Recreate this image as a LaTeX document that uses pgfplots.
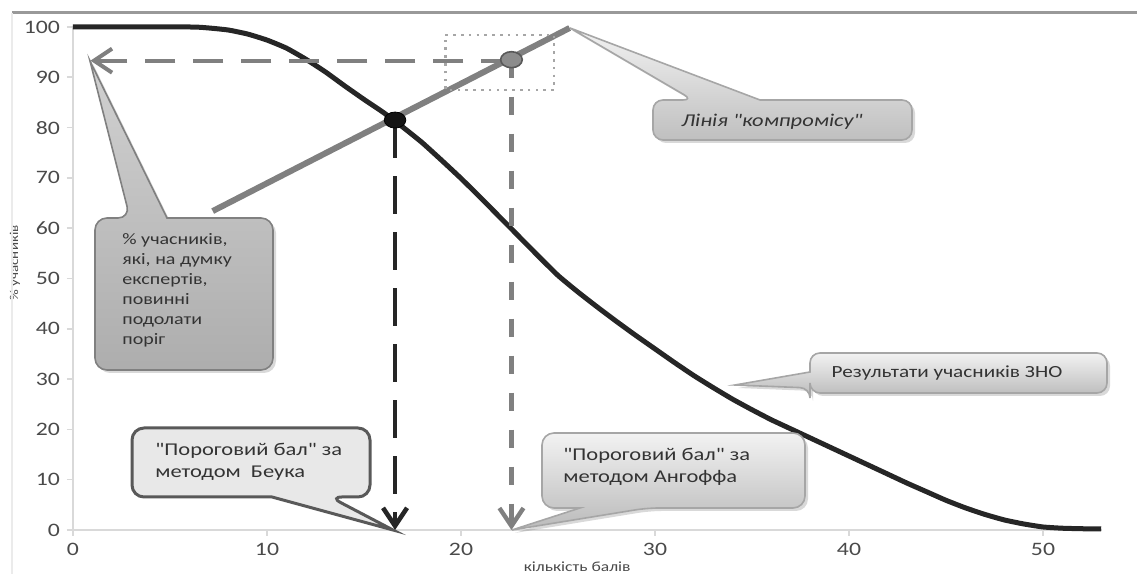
\documentclass[border=0pt]{standalone}
\usepackage{fontspec}
\setmainfont[FakeStretch=1.25]{Carlito}
\newfontfamily\bxfont[FakeStretch=1.25]{Carlito}
\newfontfamily\itfont[FakeStretch=1.25]{Carlito Italic}
\usepackage{pgfplots}
\pgfplotsset{compat=1.18}
\usetikzlibrary{arrows.meta,shadows}
\definecolor{axgray}{HTML}{D9D9D9}
\definecolor{txtgray}{HTML}{4A4A4A}
\definecolor{curvec}{HTML}{262626}
\definecolor{lgray}{HTML}{808080}
\definecolor{dgray}{HTML}{333333}
\begin{document}
\begin{tikzpicture}
\begin{axis}[
  scale only axis, width=514.5pt, height=251.5pt,
  xmin=0, xmax=53.04, ymin=0, ymax=100,
  axis lines*=left, axis line style={axgray, line width=1pt},
  xtick={0,10,...,50}, ytick={0,10,...,100},
  tick style={axgray, line width=0.8pt}, tick align=outside, major tick length=3pt,
  ticklabel style={font=\fontsize{9.5}{11}\selectfont, text=txtgray},
  /pgf/number format/assume math mode=true,
  xlabel={кількість балів}, ylabel={\% учасників},
  xlabel style={at={(axis description cs:0.49,-0.0736)}, anchor=center, font=\fontsize{7}{8}\selectfont, text=txtgray},
  ylabel style={at={(axis description cs:-0.0564,0.531)}, anchor=center, font=\fontsize{6}{7}\selectfont, text=txtgray},
  clip=false,
]
% results curve
\addplot[curvec, line width=2.5pt, smooth, tension=0.3, line join=round] coordinates {
(0,100)(6,100)(7,99.8)(8,99.4)(9,98.6)(10,97.4)(11,95.8)(12,93.6)(13,91.1)(14,88.3)(15,85.6)(16,83.0)(17,80.1)(18,77.0)(19,73.5)(20,69.9)(21,66.1)(22,62.2)(23,58.3)(24,54.4)(25,50.6)(26,47.4)(27,44.4)(28,41.5)(29,38.7)(30,36.0)(31,33.3)(32,30.7)(33,28.3)(34,26.0)(35,23.9)(36,21.9)(37,20.1)(38,18.3)(39,16.5)(40,14.7)(41,12.9)(42,11.1)(43,9.3)(44,7.6)(45,5.9)(46,4.4)(47,3.1)(48,2.0)(49,1.2)(50,0.6)(51,0.35)(52,0.25)(53,0.2)};
% compromise line
\addplot[lgray, line width=3pt] coordinates {(7.2,63.4) (25.6,99.8)};
% horizontal dashed arrow
\addplot[lgray, line width=2pt, dash pattern=on 15pt off 9pt, -{Straight Barb[length=9pt,width=12pt,line width=2pt]}] coordinates {(22.6,93.3) (0.9,93.3)};
% vertical arrows
\addplot[curvec, line width=2.3pt, dash pattern=on 19pt off 9pt, -{Straight Barb[length=9pt,width=12pt,line width=2.3pt]}] coordinates {(16.6,81.5) (16.6,0)};
\addplot[lgray, line width=2.2pt, dash pattern=on 9pt off 9.5pt, -{Straight Barb[length=9pt,width=12pt,line width=2.2pt]}] coordinates {(22.6,93.5) (22.6,0)};
% dotted rectangle
\addplot[black!35, line width=1.3pt, dash pattern=on 1.3pt off 2.6pt] coordinates {(19.2,98.4)(24.8,98.4)(24.8,87.5)(19.2,87.5)(19.2,98.4)};
% dots
\addplot[only marks, mark=*, mark size=4pt, mark options={xscale=1.35, fill=black!92, draw=black}] coordinates {(16.6,81.5)};
\addplot[only marks, mark=*, mark size=4pt, mark options={xscale=1.35, fill=black!45, draw=black!65, line width=0.8pt}] coordinates {(22.6,93.5)};
\end{axis}
\begin{scope}[shift={(-36.5pt,265pt)}, x=0.5pt, y=-0.5pt]
\path[use as bounding box] (0,0) rectangle (1137,574);
\draw[black!40, line width=1.5pt] (12,13) -- (1137,13);
\draw[black!8, line width=1pt] (12,13) -- (12,574);
% box 1
\filldraw[draw=lgray, line width=0.8pt, top color=black!18, bottom color=black!32, drop shadow={opacity=0.3, shadow xshift=1.5pt, shadow yshift=-1.5pt}, rounded corners=6pt]
  (95,218) -- (130,218) [sharp corners] -- (90,61) -- (167,218) [rounded corners=6pt] -- (273,218) -- (273,370) -- (95,370) -- cycle;
\node[anchor=north west, align=left, text=dgray, font=\bxfont\fontsize{8}{10}\selectfont, inner sep=0pt] at (122,233)
  {\% учасників,\\які, на думку\\експертів,\\повинні\\подолати\\поріг};
% box 2
\filldraw[draw=black!35, line width=0.8pt, top color=black!5, bottom color=black!25, drop shadow={opacity=0.3, shadow xshift=1.5pt, shadow yshift=-1.5pt}, rounded corners=5pt]
  (653,100) -- (693,100) [sharp corners] -- (570,28) -- (760,100) [rounded corners=5pt] -- (912,100) -- (912,140) -- (653,140) -- cycle;
\node[text=dgray, font=\itfont\fontsize{9}{10}\selectfont] at (772,122) {Лінія "компромісу"};
% box 3
\filldraw[draw=black!35, line width=0.8pt, top color=black!5, bottom color=black!25, drop shadow={opacity=0.3, shadow xshift=1.5pt, shadow yshift=-1.5pt}, rounded corners=5pt]
  (810,353) -- (1107,353) -- (1107,393) -- (810,393) -- (810,388) [sharp corners] -- (735,385) -- (810,372) [rounded corners=5pt] -- cycle;
\node[text=dgray, font=\bxfont\fontsize{8.5}{10}\selectfont] at (947,373) {Результати учасників ЗНО};
% box 4
\filldraw[draw=black!65, line width=1.5pt, fill=black!9, rounded corners=6pt]
  (132,428) -- (370,428) -- (370,497) -- (330,497) [sharp corners] -- (393,530) -- (272,497) [rounded corners=6pt] -- (132,497) -- cycle;
\node[anchor=north west, align=left, text=dgray, font=\bxfont\fontsize{9}{11}\selectfont, inner sep=0pt] at (155,443)
  {"Пороговий бал" за\\методом~~Беука};
% box 5
\filldraw[draw=black!35, line width=0.8pt, top color=black!5, bottom color=black!27, drop shadow={opacity=0.3, shadow xshift=1.5pt, shadow yshift=-1.5pt}, rounded corners=6pt]
  (542,433) -- (805,433) -- (805,508) -- (647,508) [sharp corners] -- (512,530) -- (580,508) [rounded corners=6pt] -- (542,508) -- cycle;
\node[anchor=north west, align=left, text=dgray, font=\bxfont\fontsize{9}{11}\selectfont, inner sep=0pt] at (563,448)
  {"Пороговий бал" за\\методом Ангоффа};
\end{scope}
\end{tikzpicture}
\end{document}
